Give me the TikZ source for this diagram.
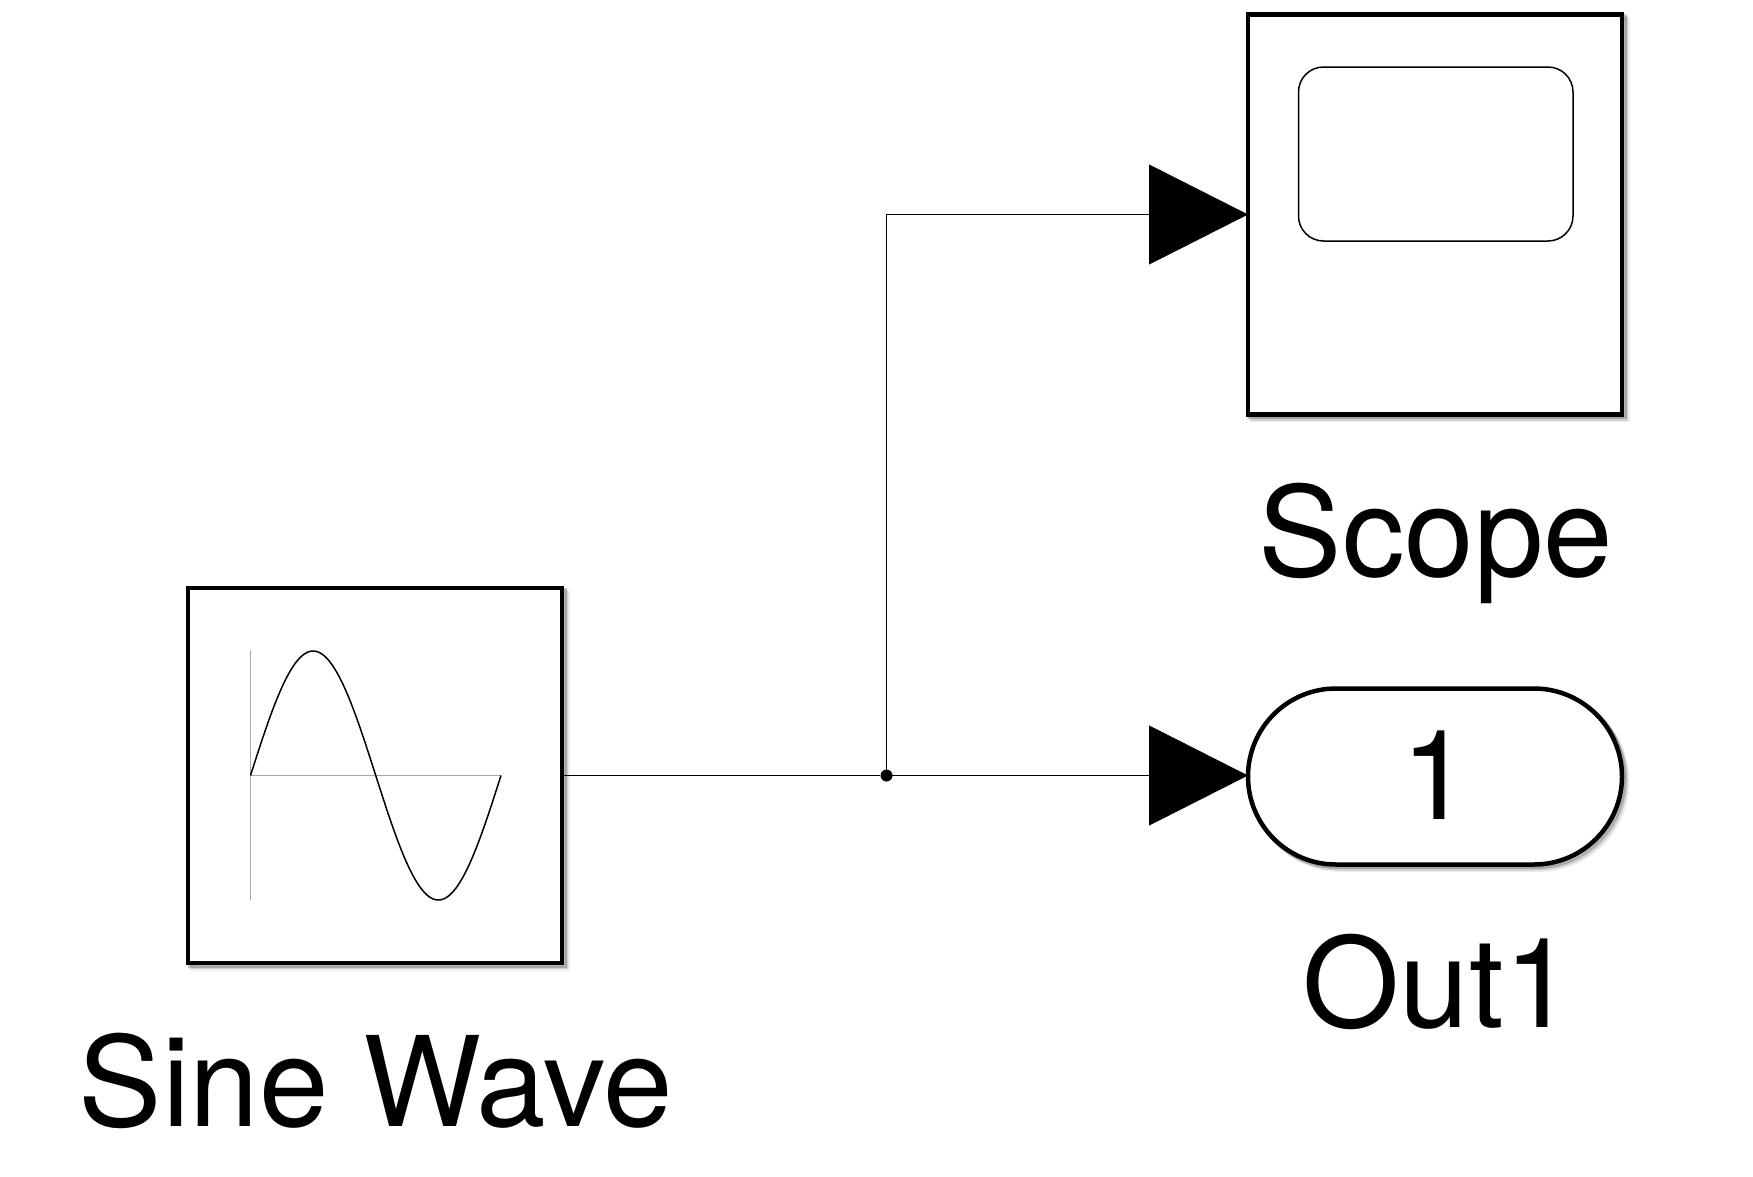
\documentclass[tikz,border=0pt]{standalone}
\usepackage{fontspec}
\setmainfont{TeX Gyre Heros}
\usetikzlibrary{arrows.meta}
\tikzset{
  softshadow/.style={
    preaction={draw=black,opacity=.07,line width=5pt,transform canvas={shift={(5pt,-5pt)}}},
    preaction={draw=black,opacity=.12,line width=5pt,transform canvas={shift={(3.5pt,-3.5pt)}}},
    preaction={draw=black,opacity=.2,line width=5pt,transform canvas={shift={(2pt,-2pt)}}}},
  blockbox/.style={draw=black,fill=white,line width=4.5pt,rectangle,inner sep=0pt,outer sep=0pt,softshadow},
  label/.style={font=\fontsize{125}{130}\selectfont,inner sep=0pt,anchor=base},
  wire/.style={draw=black,line width=.9pt},
  arrowwire/.style={wire,-{Triangle[length=99pt,width=100pt]}},
  junction/.style={circle,fill=black,inner sep=0pt,minimum size=12pt},
  axisline/.style={draw=black!35,line width=1.3pt},
  iconline/.style={draw=black,line width=1.5pt}
}
\begin{document}
\begin{tikzpicture}[x=1pt,y=-1pt]
\useasboundingbox (0,0) rectangle (1753,1176);
\node[blockbox,minimum width=374pt,minimum height=375pt] (sine) at (375,775.5) {};
\node[blockbox,minimum width=374pt,minimum height=400pt] (scope) at (1435,214.5) {};
\node[blockbox,rounded corners=88pt,minimum width=374pt,minimum height=176pt] (out) at (1435,776.5) {};
\draw[iconline,rounded corners=25pt] (1298.5,67) rectangle (1573,241);
\coordinate (axtop) at (250.5,650);
\coordinate (axbot) at (250.5,900);
\coordinate (axorig) at (250.5,775.5);
\coordinate (axend) at (501,775.5);
\draw[axisline] (axtop) -- (axbot);
\draw[axisline] (axorig) -- (axend);
\draw[iconline,domain=0:360,samples=120,smooth] plot ({250.5+\x/360*250.5},{775.5-124.5*sin(\x)});
\node[junction] (junc) at (886.5,775.5) {};
\draw[wire] (sine.east) -- (junc);
\draw[arrowwire] (junc.center) |- (scope.west);
\draw[arrowwire] (junc.center) -- (junc.center -| out.west);
\node[label] (scopelabel) at (1436,576) {Scope};
\node[label] (outlabel) at (1438,1027) {Out1};
\node[label] (sinelabel) at (376,1126) {Sine Wave};
\node[label] (outnum) at (1436,819.5) {1};
\end{tikzpicture}
\end{document}
